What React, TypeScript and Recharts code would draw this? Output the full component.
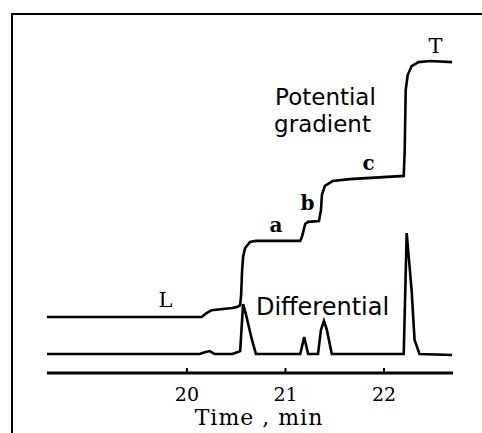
import { LineChart, Line, XAxis, YAxis, ReferenceDot } from 'recharts';

// time axis (min)
const TIME_TICKS = [20, 21, 22];

// potential gradient trace (arbitrary units, 0-100)
const gradientTime = [
  18.58, 20.15, 20.2, 20.25, 20.46, 20.51, 20.54, 20.55, 20.56, 20.57, 20.59, 20.64, 20.7,
  21.15, 21.17, 21.2, 21.23, 21.34, 21.36, 21.37, 21.4, 21.48, 21.65, 22.2, 22.21, 22.22,
  22.24, 22.28, 22.35, 22.47, 22.69,
];
const gradientSignal = [
  15.6, 15.6, 16.7, 17.5, 18.1, 18.4, 18.9, 21.7, 28.7, 32.3, 34.8, 36.5, 36.8,
  36.8, 38.2, 41.5, 42.1, 42.3, 45.4, 49.6, 52.1, 53.5, 54.0, 54.9, 62.1, 78.8,
  83.0, 85.5, 86.6, 86.9, 86.6,
];

// differential trace
const diffTime = [
  18.58, 20.13, 20.18, 20.23, 20.28, 20.46, 20.51, 20.54, 20.57, 20.6, 20.66, 20.7,
  21.15, 21.19, 21.23, 21.33, 21.36, 21.39, 21.42, 21.47, 22.2, 22.23, 22.28, 22.31,
  22.36, 22.69,
];
const diffSignal = [
  5.3, 5.3, 5.8, 6.1, 5.3, 5.3, 5.8, 6.1, 19.2, 16.2, 9.2, 5.3,
  5.3, 10.0, 5.3, 5.3, 12.0, 14.5, 12.0, 5.3, 5.3, 39.0, 23.1, 9.2,
  5.3, 5.0,
];

const gradientData = gradientTime.map((t, i) => ({ t, v: gradientSignal[i] }));
const diffData = diffTime.map((t, i) => ({ t, v: diffSignal[i] }));

const SERIF = '"DejaVu Serif", serif';
const SANS = '"DejaVu Sans", sans-serif';

const note = (text: string, font: string, size: number, weight = 'normal') => (props: any) => {
  const { viewBox } = props;
  const x = viewBox.x + viewBox.width / 2;
  const y = viewBox.y + viewBox.height / 2;
  return (
    <text x={x} y={y} textAnchor="middle" fontFamily={font} fontSize={size} fontWeight={weight} fill="#000">
      {text}
    </text>
  );
};

const TimeTick = ({ x, y, payload }: any) => (
  <g>
    <line x1={x} x2={x} y1={y - 5} y2={y} stroke="#000" strokeWidth={2} />
    <text x={x} y={y + 28} textAnchor="middle" fontFamily={SERIF} fontSize={19} fill="#000">
      {payload.value}
    </text>
  </g>
);

const App = () => {
  return (
    <div style={{ position: 'absolute', left: 0, top: 0, width: 482, height: 433, background: '#fff' }}>
      <div style={{ position: 'absolute', left: 11, top: 13, width: 471, height: 420, borderLeft: '2px solid #000', borderTop: '2px solid #000' }} />
      <LineChart width={482} height={433} margin={{ top: 14, right: 29, bottom: 20, left: 47 }}>
        <XAxis
          type="number"
          dataKey="t"
          domain={[18.58, 22.7]}
          ticks={TIME_TICKS}
          height={40}
          tickSize={0}
          tickMargin={0}
          tickLine={false}
          axisLine={{ stroke: '#000', strokeWidth: 3 }}
          tick={<TimeTick />}
          label={{
            value: 'Time , min',
            content: (p: any) => (
              <text
                x={p.viewBox.x + p.viewBox.width / 2 + 9}
                y={p.viewBox.y + 52}
                textAnchor="middle"
                fontFamily={SERIF}
                fontSize={22}
                letterSpacing={1}
                fill="#000"
              >
                Time , min
              </text>
            ),
          }}
        />
        <YAxis type="number" domain={[0, 100]} hide />
        <Line data={gradientData} dataKey="v" type="linear" stroke="#000" strokeWidth={2.6} dot={false} isAnimationActive={false} />
        <Line data={diffData} dataKey="v" type="linear" stroke="#000" strokeWidth={2.6} dot={false} isAnimationActive={false} />
        <ReferenceDot x={21.406} y={74.65} r={1} fill="none" stroke="none" label={note('Potential', SANS, 23)} />
        <ReferenceDot x={21.376} y={67.2} r={1} fill="none" stroke="none" label={note('gradient', SANS, 23)} />
        <ReferenceDot x={21.376} y={16.2} r={1} fill="none" stroke="none" label={note('Differential', SANS, 24)} />
        <ReferenceDot x={19.782} y={18.4} r={1} fill="none" stroke="none" label={note('L', SERIF, 21)} />
        <ReferenceDot x={20.904} y={39.3} r={1} fill="none" stroke="none" label={note('a', SERIF, 20, 'bold')} />
        <ReferenceDot x={21.223} y={45.4} r={1} fill="none" stroke="none" label={note('b', SERIF, 20, 'bold')} />
        <ReferenceDot x={21.843} y={56.5} r={1} fill="none" stroke="none" label={note('c', SERIF, 20, 'bold')} />
        <ReferenceDot x={22.523} y={89.1} r={1} fill="none" stroke="none" label={note('T', SERIF, 21)} />
      </LineChart>
    </div>
  );
};

export default App;
